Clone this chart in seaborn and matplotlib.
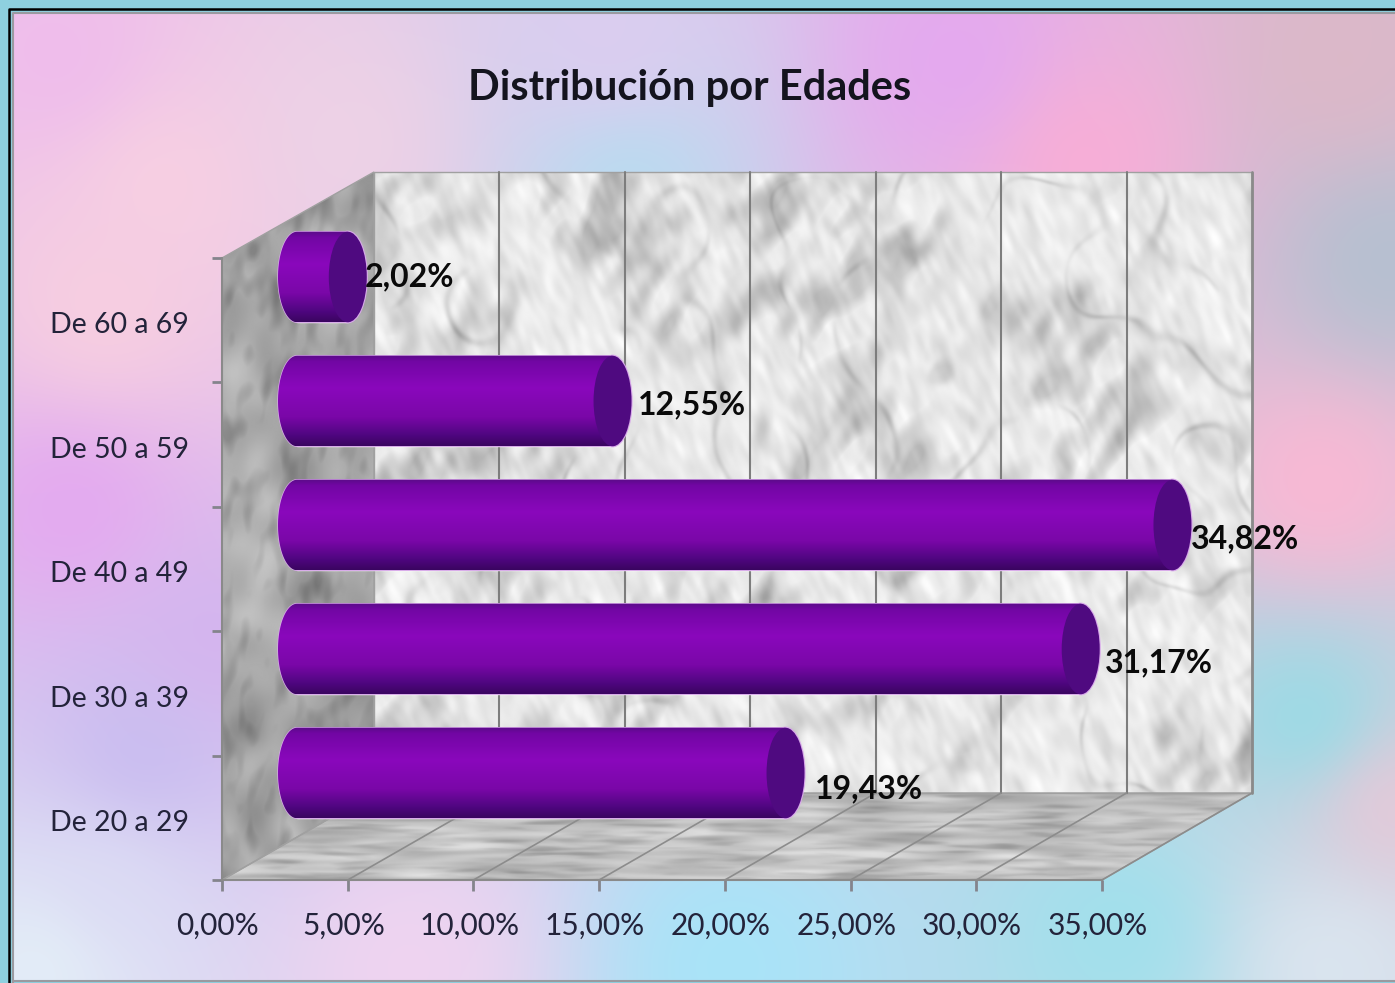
import numpy as np
import pandas as pd
import matplotlib
matplotlib.use("Agg")
import matplotlib.pyplot as plt
from matplotlib.colors import LinearSegmentedColormap, to_rgb
from matplotlib.patches import Ellipse, PathPatch, Polygon
from matplotlib.path import Path
from matplotlib.transforms import ScaledTranslation
import seaborn as sns

# values
edades = ["De 60 a 69", "De 50 a 59", "De 40 a 49", "De 30 a 39", "De 20 a 29"]
valores = [2.02, 12.55, 34.82, 31.17, 19.43]
etiquetas = ["2,02%", "12,55%", "34,82%", "31,17%", "19,43%"]
ticks = [0, 5, 10, 15, 20, 25, 30, 35]
tick_labels = ["0,00%", "5,00%", "10,00%", "15,00%", "20,00%", "25,00%", "30,00%", "35,00%"]
# label shift from the end of each bar, in pixels
label_dx = [17, 25, 18, 24, 29]
label_dy = [0, -4, -14, -14, -16]

W, H = 1395, 983
sns.set_theme(style="white")
plt.rcParams["font.family"] = ["Lato", "DejaVu Sans"]
fig = plt.figure(figsize=(W / 100, H / 100), dpi=100, facecolor="#8ed0df")


def px_axes(left, top, right, bottom):
    return fig.add_axes([left / W, 1 - bottom / H, (right - left) / W, (bottom - top) / H])


# pastel wallpaper behind the chart
blobs = [(50, 50, "#efbcec"), (150, 170, "#f8d0e2"), (330, 130, "#eed2e6"), (620, 170, "#b8dcf0"),
         (600, 40, "#dccdf0"), (950, 50, "#e4a8f0"), (1080, 150, "#f9aed6"), (1340, 50, "#dcb8c8"),
         (1385, 250, "#b4c0d0"), (1320, 480, "#fbb8d4"), (1310, 720, "#95dce6"), (1385, 800, "#e8c8d8"),
         (1330, 960, "#dce6f0"), (1120, 930, "#a0e0ec"), (720, 965, "#a8e4f8"), (400, 965, "#f0d4f0"),
         (30, 960, "#e4f0f8"), (130, 750, "#c8bcf0"), (60, 500, "#e4a8f0"), (90, 300, "#f8cfe0"),
         (200, 640, "#d4b4ee"), (90, 890, "#dcdcf4")]
yy, xx = np.mgrid[0:H:4, 0:W:4]
weights = np.stack([1 / ((xx - b[0]) ** 2 + (yy - b[1]) ** 2 + 3000.0) ** 1.3 for b in blobs])
cols = np.array([to_rgb(b[2]) for b in blobs])
wall = np.tensordot(weights, cols, axes=(0, 0)) / weights.sum(axis=0)[..., None]


# marble texture, only decoration
def noise(h, w, sa, sb, angle, seed):
    rng = np.random.default_rng(seed)
    fy = np.fft.fftfreq(h)[:, None]
    fx = np.fft.rfftfreq(w)[None, :]
    c, s = np.cos(angle), np.sin(angle)
    fa = fx * c + fy * s
    fb = -fx * s + fy * c
    filt = np.exp(-((fa * sa) ** 2 + (fb * sb) ** 2) * 2 * np.pi ** 2)
    n = np.fft.irfft2(np.fft.rfft2(rng.standard_normal((h, w))) * filt, s=(h, w))
    return n / n.std()


# back wall: pale with soft grey patches, diagonal streaks and faint cracks
big = noise(640, 900, 26, 26, 0, 3)
mid = noise(640, 900, 7, 15, 0.5, 4)
fine = noise(640, 900, 3, 9, -0.4, 6)
crack = np.exp(-(noise(640, 900, 24, 30, 0, 7) / 0.16) ** 2)
patches = np.clip(big * 0.55 + 0.5, 0, 1)
back_tex = 0.92 - 0.075 * patches * np.clip(mid + 0.7, 0, 2.5) - 0.022 * fine \
    - 0.11 * crack * np.clip(noise(640, 900, 14, 14, 0, 8) * 0.5 + 0.5, 0, 1)
back_tex = np.clip(back_tex, 0.45, 1)

left_tex = 0.66 - 0.04 * noise(700, 170, 12, 14, 0.3, 11) - 0.045 * np.clip(noise(700, 170, 4, 8, 0.2, 12), 0, 2.5)
left_tex = np.clip(left_tex, 0.3, 1)

floor_tex = 0.76 - 0.04 * noise(90, 1040, 24, 2, 0, 5) - 0.04 * np.clip(noise(90, 1040, 12, 1.2, 0, 9), 0, 2.5)
floor_tex = np.clip(floor_tex, 0.4, 1)

bg = fig.add_axes([0, 0, 1, 1], zorder=0)
bg.set_axis_off()
bg.imshow(wall, extent=(12, W, 981, 12), interpolation="bicubic", aspect="auto", zorder=0)
bg.plot([9, 9, W], [H, 9, 9], color="black", lw=1.8, zorder=1)
bg.plot([13, 13, W], [H, 13, 13], color="#9a9aa0", lw=1.5, zorder=1)
bg.plot([13, W], [981, 981], color="#9a9aa0", lw=1.5, zorder=1)

back_xy = [(374, 172), (1252, 172), (1252, 793), (374, 793)]
left_xy = [(222, 258), (374, 172), (374, 793), (222, 880)]
floor_xy = [(222, 880), (374, 793), (1252, 793), (1102, 880)]
for tex, xy, ext in [(back_tex, back_xy, (374, 1252, 793, 172)),
                     (left_tex, left_xy, (222, 374, 880, 172)),
                     (floor_tex, floor_xy, (222, 1252, 880, 793))]:
    poly = Polygon(xy, closed=True, transform=bg.transData, fc="none", ec="#a0a0a0", lw=1.0, zorder=3)
    bg.add_patch(poly)
    im = bg.imshow(tex, extent=ext, cmap="gray", vmin=0, vmax=1, aspect="auto",
                   interpolation="bilinear", zorder=2)
    im.set_clip_path(poly)
bg.set_xlim(0, W)
bg.set_ylim(H, 0)

# grid on back wall and floor, one line per x tick
for t in ticks[1:]:
    xb = 374 + t / 35 * 878
    xf = 222 + t / 35 * 880
    if t < 35:
        bg.plot([xb, xb], [172, 793], color="#7d7d7d", lw=1.5, zorder=4)
    bg.plot([xb, xf], [793, 880], color="#8c8c8c", lw=1.2, zorder=4)
bg.plot([1252, 1252], [172, 793], color="#8a8a8a", lw=2, zorder=4)

# front plane carries the axis ticks and labels
ax = px_axes(222, 258, 1102, 880)
ax.set_zorder(1)
ax.patch.set_alpha(0)
ax.set_xlim(0, 35)
ax.set_ylim(4.5, -0.5)
ax.set_xticks(ticks, tick_labels)
ax.set_yticks(range(len(edades)), edades)
ax.set_yticks(np.arange(-0.5, 5), minor=True)
ax.tick_params(axis="x", length=8, width=2, color="#84848c", pad=15, labelsize=21.5, labelcolor="#23233a", bottom=True)
ax.tick_params(axis="y", which="major", length=0, pad=24, labelsize=20.5, labelcolor="#23233a", left=False)
ax.tick_params(axis="y", which="minor", length=7, width=2, color="#84848c", left=True)
shift = ScaledTranslation(-3 / 72, 0, fig.dpi_scale_trans)
for lab in ax.get_xticklabels():
    lab.set_transform(lab.get_transform() + shift)
shift = ScaledTranslation(0, -2 / 72, fig.dpi_scale_trans)
for lab in ax.get_yticklabels():
    lab.set_transform(lab.get_transform() + shift)
sns.despine(ax=ax)
for side in ("left", "bottom"):
    ax.spines[side].set_color("#8a8a8a")
    ax.spines[side].set_linewidth(1.5)

# bars sit further back, xlim is wider so the round ends are not cut
df = pd.DataFrame({"Edad": edades, "Valor": valores})
ppu = 880 / 35
ax2 = px_axes(297 - 2 * ppu, 215, 297 + 37 * ppu, 835)
ax2.set_zorder(2)
sns.barplot(data=df, y="Edad", x="Valor", order=edades, color="#7a08a8", width=0.73,
            saturation=1, ax=ax2)
ax2.set_xlim(-2, 37)
ax2.set_ylim(4.5, -0.5)
ax2.set_axis_off()

grad = LinearSegmentedColormap.from_list(
    "tubo", [(0, "#5a0c88"), (0.07, "#7206a4"), (0.36, "#8a08bc"), (0.68, "#7a07a8"), (0.88, "#4f0680"), (1, "#3a0560")])
g = np.linspace(0, 1, 256)[:, None]
rx = 19 / ppu

for bar, val, txt, dx, dy in zip(ax2.patches, valores, etiquetas, label_dx, label_dy):
    y0 = bar.get_y()
    h = bar.get_height()
    yc = y0 + h / 2
    a = np.linspace(np.pi / 2, 3 * np.pi / 2, 40)
    la = np.column_stack([rx * np.cos(a), yc - h / 2 * np.sin(a)])
    verts = [(val, y0)] + [tuple(p) for p in la] + [(val, y0 + h), (val, y0)]
    codes = [Path.MOVETO] + [Path.LINETO] * (len(verts) - 2) + [Path.CLOSEPOLY]
    ax2.add_patch(Ellipse((val, yc), 2 * rx, h, fc="none", ec="#d8a8ea", lw=1.6, zorder=3))
    body = PathPatch(Path(verts, codes), fc="none", ec="#d8a8ea", lw=1.0, zorder=3)
    ax2.add_patch(body)
    img = ax2.imshow(g, extent=(-rx, val + rx, y0 + h, y0), cmap=grad, aspect="auto", zorder=4)
    img.set_clip_path(body)
    ax2.add_patch(Ellipse((val, yc), 2 * rx, h, fc="#4f0a80", ec="none", zorder=5))
    ax2.annotate(txt, (val, yc), xytext=(dx, dy), textcoords="offset pixels", ha="left", va="center",
                 fontsize=23, fontweight="bold", color="#0a0a0a", zorder=6)
ax2.set_xlim(-2, 37)
ax2.set_ylim(4.5, -0.5)

fig.text(690 / W, 1 - 88 / H, "Distribución por Edades", ha="center", va="center",
         fontsize=30, fontweight="bold", color="#14141e")

fig.savefig("out.png", dpi=100, facecolor=fig.get_facecolor())
